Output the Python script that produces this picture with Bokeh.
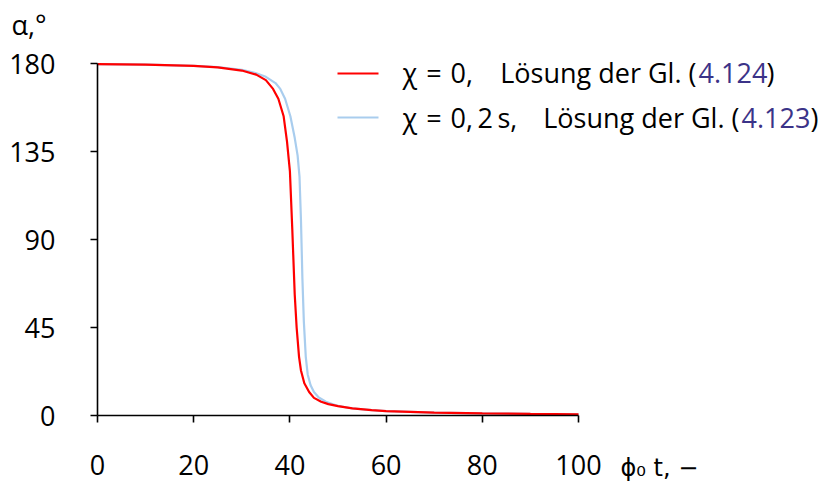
from bokeh.plotting import figure
from bokeh.models import Range1d, FixedTicker, Label, BoxAnnotation
from bokeh.embed import file_html
from bokeh.resources import INLINE

# ---- data ----
red_x = [0, 10, 20, 25, 30, 33, 35, 36.5, 37.6, 38.7, 39.4, 40.0, 40.5, 41.0, 41.4,
         41.9, 42.3, 43.0, 44.0, 45.0, 46.5, 48, 50, 53, 57, 60, 70, 80, 90, 100]
red_y = [179.7, 179.4, 178.8, 178.0, 176.4, 174.3, 171.5, 167, 162, 153, 140, 125, 95, 62, 45,
         30, 23, 16.5, 12, 9, 7, 5.8, 4.8, 3.6, 2.7, 2.2, 1.5, 1.1, 0.8, 0.6]
blue_x = [0, 10, 20, 25, 30, 33, 35, 37, 38, 39, 40.1, 41.0, 41.6, 42.0, 42.3, 42.6,
          42.9, 43.3, 43.7, 44.3, 45.0, 46, 47.5, 50, 53, 57, 60, 70, 80, 90, 100]
blue_y = [179.7, 179.4, 178.8, 178.1, 176.8, 175.0, 173.2, 170, 167, 162, 153, 142, 133, 122, 100, 70,
          48, 30, 21, 15.5, 12, 9.2, 7, 4.9, 3.6, 2.7, 2.2, 1.5, 1.1, 0.8, 0.6]
x_ticks = [0, 20, 40, 60, 80, 100]
y_ticks = [0, 45, 90, 135, 180]
legend_math = ["χ\u2004=\u20040,", "χ\u2004=\u20040,\u20092\u2009s,"]
legend_text = "Lösung der Gl. ("
legend_refs = ["4.124", "4.123"]
legend_close = ")"
x_label = "ϕ₀ t, −"
y_label = "α,°"

RED = "#ff0000"
BLUE = "#a9cdee"
LINK = "#3b3388"
FONT = "Open Sans"
MATH_FONT = "DejaVu Sans"
FS = "27px"

# pixel geometry: x 0..100 -> 97..578 px, y 0..180 -> 415..63 px
W, H = 827, 484
LEFT, BASE = 97, 415
PX_X = 4.81
PX_Y = 352 / 180.0

def dx(px):
    return (px - LEFT) / PX_X

def dy(py):
    return (BASE - py) / PX_Y

p = figure(width=W, height=H, output_backend="svg", toolbar_location=None,
           x_range=Range1d(dx(0), dx(W)), y_range=Range1d(dy(H), dy(0)),
           min_border=0, min_border_left=0, min_border_right=0,
           min_border_top=0, min_border_bottom=0)
p.outline_line_color = None
p.grid.visible = False
p.background_fill_color = "white"
p.border_fill_color = "white"

for ax, ticks in ((p.xaxis[0], x_ticks), (p.yaxis[0], y_ticks)):
    ax.fixed_location = 0
    ax.ticker = FixedTicker(ticks=ticks)
    ax.bounds = (ticks[0], ticks[-1])
    ax.axis_line_color = "black"
    ax.axis_line_width = 1.6
    ax.major_tick_line_color = "black"
    ax.major_tick_line_width = 1.6
    ax.major_tick_in = 0
    ax.major_tick_out = 7
    ax.minor_tick_line_color = None
    ax.major_label_text_font = FONT
    ax.major_label_text_font_size = FS
    ax.major_label_text_color = "black"
p.xaxis.major_label_standoff = 32
p.yaxis.major_label_standoff = 35

p.line(blue_x, blue_y, line_color=BLUE, line_width=2.2)
p.line(red_x, red_y, line_color=RED, line_width=2.2)

def lab(px, py, text, color="black", size=FS, align="left", font=FONT):
    p.add_layout(Label(x=dx(px), y=dy(py), text=text, text_font=font, text_font_size=size,
                       text_baseline="middle", text_align=align, text_color=color))

# axis captions
lab(11, 24, y_label)
lab(620, 467, x_label, size="24px", font=MATH_FONT)

# legend
rows_py = [72, 117]
colors = [RED, BLUE]
paren_end = [696, 739]
ref_start = [698, 741]
close_start = [766, 810]
for i in range(2):
    py = rows_py[i]
    sw = 73 if i == 0 else 117
    p.add_layout(BoxAnnotation(left=dx(337), right=dx(378), bottom=dy(sw + 1), top=dy(sw - 1),
                               fill_color=colors[i], fill_alpha=1, line_color=None))
    lab(402, py, legend_math[i])
    lab(paren_end[i], py, legend_text, align="right")
    lab(ref_start[i], py, legend_refs[i], color=LINK)
    lab(close_start[i], py, legend_close)

open("out.html", "w").write(file_html(p, INLINE))
